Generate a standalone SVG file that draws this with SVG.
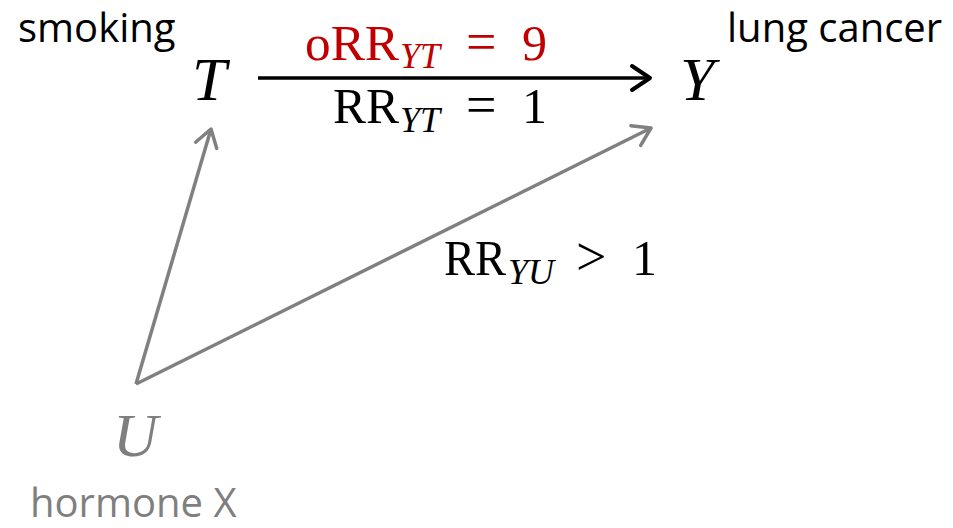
<svg xmlns="http://www.w3.org/2000/svg" width="953" height="528" viewBox="0 0 953 528">
<style>
.lbl{font-family:"Open Sans","Liberation Sans",sans-serif;font-size:40px;fill:#000}
.var{font-family:"Liberation Serif","DejaVu Serif",serif;font-style:italic;font-size:62px;fill:#000}
.math{font-family:"Liberation Serif","DejaVu Serif",serif;font-size:50px;fill:#000}
.sub{font-style:italic;font-size:36px}
.op{font-size:54px}
.red{fill:#c00000}
.gray{fill:#7f7f7f}
</style>
<defs>
<marker id="hb" markerUnits="userSpaceOnUse" markerWidth="30" markerHeight="30" refX="22" refY="15" orient="auto">
<path d="M4,3 L22,15 L4,27" fill="none" stroke="#000" stroke-width="4" stroke-linecap="round" stroke-linejoin="round"/>
</marker>
<marker id="hg" markerUnits="userSpaceOnUse" markerWidth="30" markerHeight="30" refX="22" refY="15" orient="auto">
<path d="M5,4 L22,15 L5,26" fill="none" stroke="#808080" stroke-width="3.5" stroke-linecap="round" stroke-linejoin="round"/>
</marker>
</defs>
<g id="connectors">
<line x1="258" y1="78" x2="650" y2="78" stroke="#000" stroke-width="3.5" marker-end="url(#hb)"/>
<line x1="136" y1="384" x2="211" y2="129" stroke="#808080" stroke-width="3.5" marker-end="url(#hg)"/>
<line x1="136" y1="384" x2="651" y2="128" stroke="#808080" stroke-width="3.5" marker-end="url(#hg)"/>
</g>
<g id="node-T">
<text class="lbl" x="18" y="42" font-size="40.5">smoking</text>
<text class="var" x="192" y="100">T</text>
</g>
<g id="node-Y">
<text class="lbl" x="727" y="42">lung cancer</text>
<text class="var" x="680" y="100">Y</text>
</g>
<g id="node-U">
<text class="var gray" x="113" y="456">U</text>
<text class="lbl gray" x="30" y="517" font-size="41">hormone X</text>
</g>
<g id="labels">
<text class="math red" y="60"><tspan x="305" textLength="94" lengthAdjust="spacingAndGlyphs">oRR</tspan><tspan class="sub" x="400" y="68">YT</tspan><tspan class="op" x="466" y="60">=</tspan><tspan x="522" y="60">9</tspan></text>
<text class="math" y="123"><tspan x="333" textLength="66" lengthAdjust="spacingAndGlyphs">RR</tspan><tspan class="sub" x="400" y="132">YT</tspan><tspan class="op" x="466" y="123">=</tspan><tspan x="522" y="123">1</tspan></text>
<text class="math" y="275"><tspan x="444" textLength="62" lengthAdjust="spacingAndGlyphs">RR</tspan><tspan class="sub" x="508" y="284">YU</tspan><tspan class="op" x="576" y="275">&gt;</tspan><tspan x="632" y="275">1</tspan></text>
</g>
</svg>
